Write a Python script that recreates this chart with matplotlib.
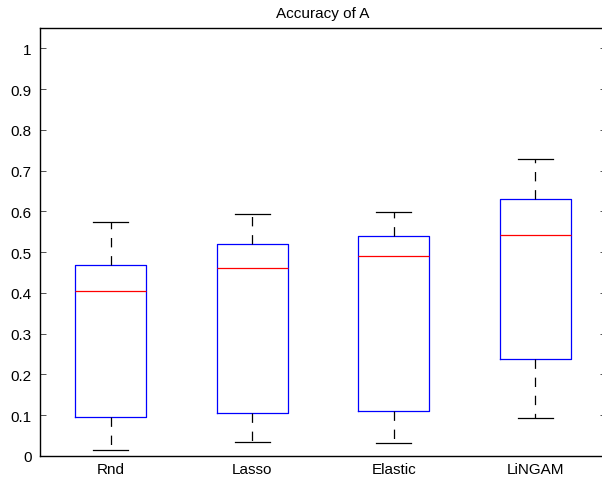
import matplotlib
matplotlib.use("Agg")
import matplotlib.pyplot as plt

plt.rcParams['font.family'] = ['Liberation Sans', 'DejaVu Sans']

categories = ["Rnd", "Lasso", "Elastic", "LiNGAM"]
whislo = [0.015, 0.034, 0.032, 0.094]
q1 = [0.096, 0.105, 0.111, 0.238]
med = [0.404, 0.462, 0.490, 0.542]
q3 = [0.469, 0.521, 0.540, 0.631]
whishi = [0.573, 0.594, 0.598, 0.728]
yticks = [0, 0.1, 0.2, 0.3, 0.4, 0.5, 0.6, 0.7, 0.8, 0.9, 1]
ytick_labels = ["0", "0.1", "0.2", "0.3", "0.4", "0.5", "0.6", "0.7", "0.8", "0.9", "1"]

W, H = 602, 481
fig = plt.figure(figsize=(W / 100, H / 100), dpi=100)
left, right, top, bottom = 40, 606, 29, 457
ax = fig.add_axes([left / W, 1 - bottom / H, (right - left) / W, (bottom - top) / H])

stats = []
for i, c in enumerate(categories):
    stats.append(dict(label=c, whislo=whislo[i], q1=q1[i], med=med[i],
                      q3=q3[i], whishi=whishi[i], fliers=[]))

ax.bxp(stats, positions=range(1, len(categories) + 1), widths=0.5,
       showfliers=False, capwidths=0.25,
       boxprops=dict(color=(0, 0, 1), linewidth=0.9),
       medianprops=dict(color=(1, 0, 0), linewidth=0.9),
       whiskerprops=dict(color='black', linewidth=0.9, linestyle=(0, (7.5, 7))),
       capprops=dict(color='black', linewidth=0.9))

ax.set_xlim(0.5, 4.5)
ax.set_ylim(0, 1.05)
ax.set_yticks(yticks)
ax.set_yticklabels(ytick_labels)
ax.set_xticks(range(1, len(categories) + 1))
ax.set_xticklabels(categories)
ax.tick_params(axis='y', direction='in', length=4, width=0.6, labelsize=11,
               right=True, color='#333333', pad=6)
ax.tick_params(axis='x', length=0, labelsize=11, pad=4)
for s in ax.spines.values():
    s.set_linewidth(1.0)
    s.set_color('black')
ax.set_title("Accuracy of A", fontsize=11, pad=8)

fig.savefig("out.png", dpi=100)
